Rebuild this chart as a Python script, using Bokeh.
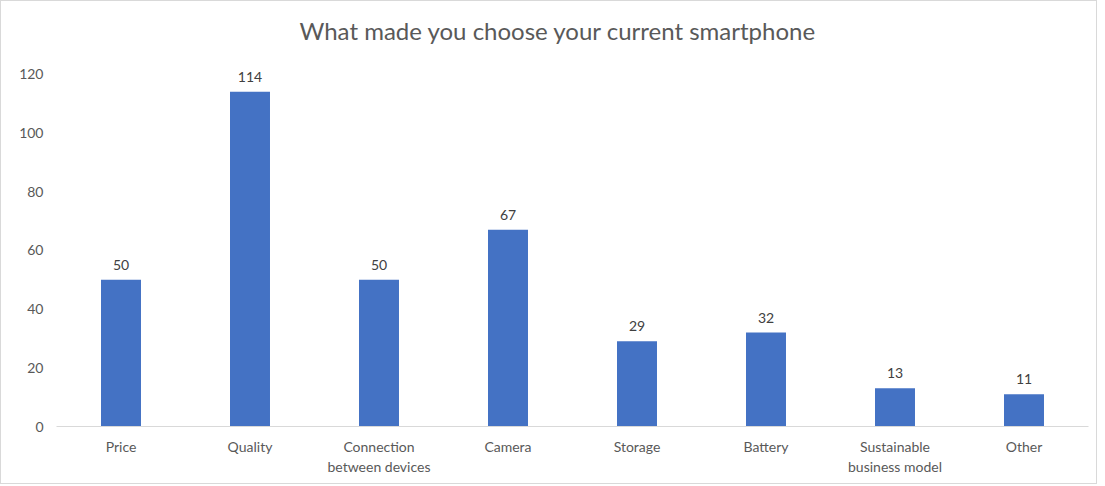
from bokeh.plotting import figure
from bokeh.models import ColumnDataSource, Range1d, FactorRange, LabelSet
from bokeh.core.properties import value
from bokeh.embed import file_html
from bokeh.resources import INLINE

categories = ["Price", "Quality", "Connection\nbetween devices", "Camera", "Storage",
              "Battery", "Sustainable\nbusiness model", "Other"]
counts = [50, 114, 50, 67, 29, 32, 13, 11]
labels = [str(c) for c in counts]
y_ticks = [0, 20, 40, 60, 80, 100, 120]

src = ColumnDataSource(dict(cat=categories, val=counts, lab=labels))

p = figure(x_range=FactorRange(*categories), y_range=Range1d(0, 127),
           width=1097, height=484, output_backend="svg", toolbar_location=None,
           title="What made you choose your current smartphone",
           min_border_left=55, min_border_right=10, min_border_top=52, min_border_bottom=59)
p.styles = {"border": "1px solid #d9d9d9", "box-sizing": "border-box"}

p.vbar(x="cat", top="val", width=0.31, source=src, color="#4472C4", line_color=None)

p.add_layout(LabelSet(x="cat", y="val", text="lab", source=src, y_offset=10,
                      text_align="center", text_baseline="bottom",
                      text_font=value("Lato"), text_font_size="14px", text_color="#404040"))

p.title.align = "left"
p.title.offset = 243
p.title.text_font = "Lato"
p.title.text_font_size = "24px"
p.title.text_font_style = "normal"
p.title.text_color = "#595959"
p.title.standoff = 18

p.xgrid.visible = False
p.ygrid.visible = False
p.outline_line_color = None

p.yaxis.ticker = y_ticks
p.yaxis.axis_line_color = None
p.yaxis.major_tick_line_color = None
p.yaxis.minor_tick_line_color = None
p.yaxis.major_label_text_font = "Lato"
p.yaxis.major_label_text_font_size = "14px"
p.yaxis.major_label_text_color = "#595959"
p.yaxis.major_label_standoff = 7

p.xaxis.axis_line_color = "#d9d9d9"
p.xaxis.axis_line_width = 1
p.xaxis.major_tick_line_color = None
p.xaxis.minor_tick_line_color = None
p.xaxis.major_label_text_font = "Lato"
p.xaxis.major_label_text_font_size = "14px"
p.xaxis.major_label_text_color = "#595959"
p.xaxis.major_label_standoff = 5
p.x_range.range_padding = 0

open("out.html", "w").write(file_html(p, INLINE))
